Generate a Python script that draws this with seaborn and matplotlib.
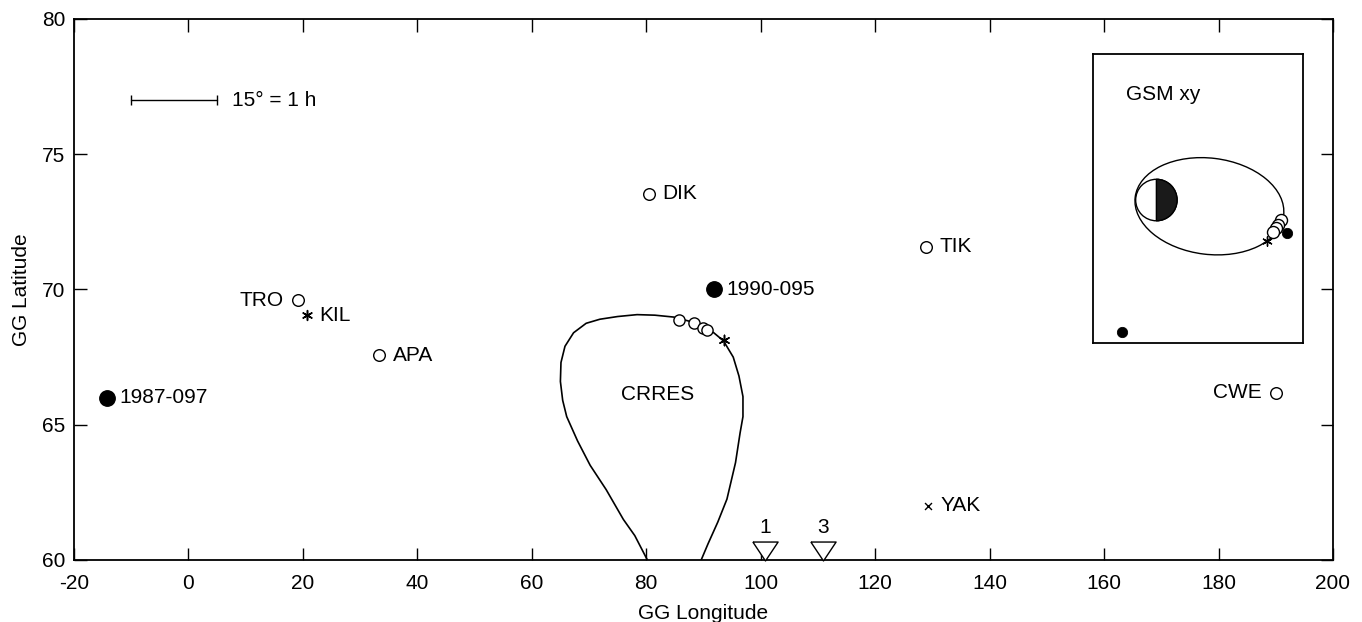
import numpy as np
import pandas as pd
import seaborn as sns
import matplotlib.pyplot as plt
from matplotlib.patches import Circle, Wedge, Ellipse

# stations (GG lon, lat)
stn_names = ['TRO', 'APA', 'DIK', 'TIK', 'CWE']
stn_lon = [19.1, 33.3, 80.4, 128.9, 190.0]
stn_lat = [69.61, 67.56, 73.54, 71.58, 66.19]
stn_ha = ['right', 'left', 'left', 'left', 'right']

kil_lon, kil_lat = [20.7], [69.04]
yak_lon, yak_lat = [129.2], [62.0]

# geosynchronous satellites
sat_names = ['1987-097', '1990-095']
sat_lon = [-14.2, 91.9]
sat_lat = [66.0, 70.0]

# CRRES footprint track
crres_lon = [80.2, 78.0, 76.0, 73.0, 70.2, 68.0, 66.1, 65.4, 65.0, 65.1, 65.8, 67.3,
             69.5, 71.9, 75.0, 78.4, 81.5, 84.8, 88.0, 90.5, 91.8, 93.5, 95.2, 96.2,
             96.9, 96.9, 96.4, 95.6, 94.1, 92.5, 90.8, 89.6]
crres_lat = [60.0, 60.9, 61.5, 62.6, 63.5, 64.4, 65.3, 65.9, 66.6, 67.3, 67.9, 68.4,
             68.75, 68.9, 69.0, 69.07, 69.05, 68.98, 68.8, 68.55, 68.4, 68.1, 67.5, 66.8,
             66.04, 65.3, 64.7, 63.6, 62.25, 61.4, 60.6, 60.0]
crres_o_lon = [85.7, 88.4, 90.0, 90.6]
crres_o_lat = [68.89, 68.75, 68.59, 68.52]
crres_star = (93.5, 68.12)

# ground markers at the bottom
tri_names = ['1', '3']
tri_lon = [100.7, 110.9]
tri_lat = [60.33, 60.33]

# scale bar 15 deg = 1 h
bar_lon = [-10, 5]
bar_lat = [77, 77]

# inset, GSM xy in Re (x to the right = nightside)
gsm_o_x = [6.01, 5.88, 5.76, 5.63]
gsm_o_y = [-0.97, -1.21, -1.37, -1.53]
gsm_star = (5.36, -1.98)
gsm_sat_x = [6.33, -1.66]
gsm_sat_y = [-1.58, -6.36]
orbit_center = (2.56, -0.30)
orbit_w, orbit_h, orbit_ang = 7.22, 4.64, -7

FS = 15

sns.set_theme(style='ticks')
plt.rcParams['font.family'] = ['Liberation Sans', 'DejaVu Sans']
plt.rcParams['axes.linewidth'] = 1.3
plt.rcParams['axes.unicode_minus'] = False
plt.rcParams['text.color'] = 'black'
plt.rcParams['axes.labelcolor'] = 'black'

fig = plt.figure(figsize=(13.62, 6.22), dpi=100)
ax = fig.add_axes([0.0543, 0.0997, 0.9244, 0.8698])

star6 = (6, 2, 0)
tri_down = [(-1, 0.75), (1, 0.75), (0, -0.75), (-1, 0.75)]
open_kw = dict(facecolor='white', edgecolor='black', linewidth=1.0, zorder=4)

# CRRES track
sns.lineplot(x=crres_lon, y=crres_lat, sort=False, estimator=None, color='black',
             lw=1.2, ax=ax, zorder=3)
sns.scatterplot(x=crres_o_lon, y=crres_o_lat, marker='o', s=65, ax=ax, **open_kw)
sns.scatterplot(x=[crres_star[0]], y=[crres_star[1]], marker=star6, s=55,
                color='black', edgecolor='black', linewidth=1.1, ax=ax, zorder=4)
ax.text(82.0, 66.1, 'CRRES', ha='center', va='center', fontsize=FS)

# stations
sns.scatterplot(x=stn_lon, y=stn_lat, marker='o', s=70, ax=ax, **open_kw)
for n, x, y, ha in zip(stn_names, stn_lon, stn_lat, stn_ha):
    dx = 10 if ha == 'left' else -10
    ax.annotate(n, (x, y), xytext=(dx, 0), textcoords='offset points',
                ha=ha, va='center', fontsize=FS)

sns.scatterplot(x=kil_lon, y=kil_lat, marker=star6, s=50, color='black',
                edgecolor='black', linewidth=1.1, ax=ax, zorder=4)
ax.annotate('KIL', (kil_lon[0], kil_lat[0]), xytext=(9, 0), textcoords='offset points',
            ha='left', va='center', fontsize=FS)

sns.scatterplot(x=yak_lon, y=yak_lat, marker='x', s=25, color='black',
                linewidth=1.0, ax=ax, zorder=4)
ax.annotate('YAK', (yak_lon[0], yak_lat[0]), xytext=(9, 0), textcoords='offset points',
            ha='left', va='center', fontsize=FS)

# satellites
sns.scatterplot(x=sat_lon, y=sat_lat, marker='o', s=125, color='black',
                edgecolor='black', ax=ax, zorder=4)
for n, x, y in zip(sat_names, sat_lon, sat_lat):
    ax.annotate(n, (x, y), xytext=(9, 0), textcoords='offset points',
                ha='left', va='center', fontsize=FS)

# triangles at the bottom
sns.scatterplot(x=tri_lon, y=tri_lat, marker=tri_down, s=330, ax=ax, clip_on=False,
                facecolor='white', edgecolor='black', linewidth=1.0, zorder=5)
for n, x, y in zip(tri_names, tri_lon, tri_lat):
    ax.annotate(n, (x, y), xytext=(0, 10), textcoords='offset points',
                ha='center', va='bottom', fontsize=FS)

# scale bar
sns.lineplot(x=bar_lon, y=bar_lat, color='black', lw=1.0, ax=ax)
sns.scatterplot(x=bar_lon, y=bar_lat, marker='|', s=60, color='black',
                linewidth=1.0, ax=ax)
ax.annotate('15\u00b0 = 1 h', (bar_lon[1], bar_lat[1]), xytext=(11, 0),
            textcoords='offset points', ha='left', va='center', fontsize=FS)

ax.set_xlim(-20, 200)
ax.set_ylim(60, 80)
ax.set_xticks(np.arange(-20, 201, 20))
ax.set_yticks(np.arange(60, 81, 5))
ax.tick_params(direction='in', length=9, width=1.0, top=True, right=True,
               labelsize=FS, colors='black')
ax.tick_params(axis='x', pad=10)
ax.tick_params(axis='y', pad=6)
for s in ax.spines.values():
    s.set_color('black')
ax.set_xlabel('GG Longitude', fontsize=FS, labelpad=8)
ax.set_ylabel('GG Latitude', fontsize=FS, labelpad=8)

# inset: GSM xy
axi = fig.add_axes([0.8025, 0.4486, 0.1542, 0.4646])
axi.set_xlim(-3.06, 7.08)
axi.set_ylim(-6.89, 7.04)
axi.set_xticks([])
axi.set_yticks([])
for s in axi.spines.values():
    s.set_color('black')
    s.set_linewidth(1.3)
axi.add_patch(Circle((0, 0), 1.0, facecolor='white', edgecolor='black', lw=1.0, zorder=2))
axi.add_patch(Wedge((0, 0), 1.0, -90, 90, facecolor='#1a1a1a', edgecolor='black', lw=1.0, zorder=3))
axi.add_patch(Ellipse(orbit_center, orbit_w, orbit_h, angle=orbit_ang, fill=False,
                      edgecolor='black', lw=1.0, zorder=2))
sns.scatterplot(x=gsm_o_x, y=gsm_o_y, marker='o', s=75, ax=axi, **open_kw)
sns.scatterplot(x=[gsm_star[0]], y=[gsm_star[1]], marker=star6, s=45, color='black',
                edgecolor='black', linewidth=1.0, ax=axi, zorder=4)
sns.scatterplot(x=gsm_sat_x, y=gsm_sat_y, marker='o', s=55, color='black',
                edgecolor='black', ax=axi, zorder=5)
axi.text(-1.48, 5.07, 'GSM xy', ha='left', va='center', fontsize=FS)
axi.set_xlabel('')
axi.set_ylabel('')

fig.savefig('out.png', dpi=100)
